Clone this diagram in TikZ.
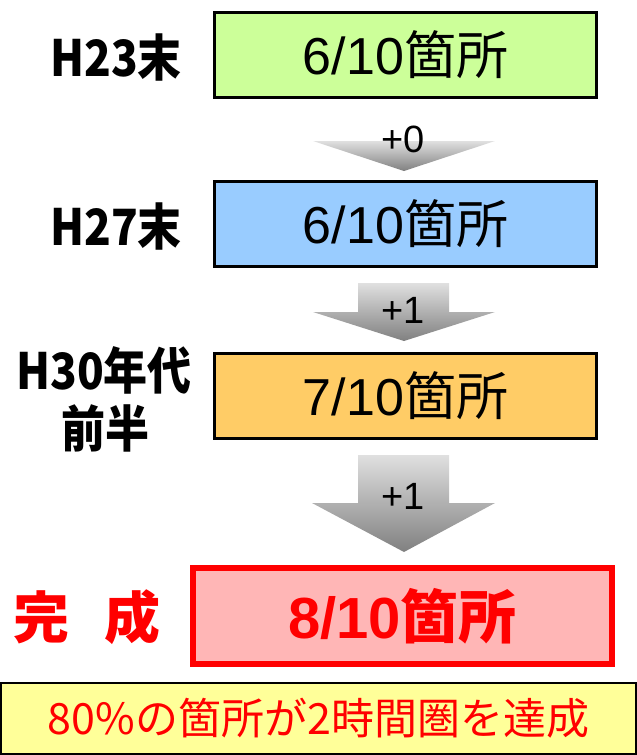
\documentclass[tikz,border=0pt]{standalone}
\usepackage{fontspec}
\setmainfont{Liberation Sans}
\newfontfamily\jp{Noto Sans CJK JP}
\newfontfamily\jpc{Noto Sans CJK JP}[FakeStretch=0.88]
\definecolor{gA}{RGB}{204,255,153}
\definecolor{bA}{RGB}{153,204,255}
\definecolor{oA}{RGB}{255,204,102}
\definecolor{pA}{RGB}{255,182,182}
\definecolor{yA}{RGB}{255,255,153}
\definecolor{rA}{RGB}{255,0,0}
\definecolor{arT}{RGB}{224,224,224}
\definecolor{arB}{RGB}{128,128,128}
\tikzset{
  valbox/.style={draw=black, line width=3pt, minimum width=382pt, minimum height=85pt, inner sep=0pt},
  valtext/.style={font=\fontsize{52}{60}\selectfont},
  sidelabel/.style={font=\jpc\bfseries\fontsize{50}{56}\selectfont, inner sep=0pt},
  steplabel/.style={font=\fontsize{38}{44}\selectfont, inner sep=0pt},
  blockarrow/.style={top color=arT, bottom color=arB, draw=none}
}
\begin{document}
\begin{tikzpicture}[x=1pt,y=-1pt]
\useasboundingbox (0,0) rectangle (637,755);
% arrows
\shade[blockarrow] (313,141) -- (495,141) -- (404,171) -- cycle;
\shade[blockarrow] (358,283) -- (449,283) -- (449,312) -- (495,312) -- (404,341) -- (313,312) -- (358,312) -- cycle;
\shade[blockarrow] (358,455) -- (449,455) -- (449,503) -- (495,503) -- (404,552) -- (312,503) -- (358,503) -- cycle;
\node[steplabel] (s1) at (403,139) {+0};
\node[steplabel] (s2) at (403,310) {+1};
\node[steplabel] (s3) at (403,496) {+1};
% boxes
\node[valbox, fill=gA, valtext] (b1) at (405.5,55) {6/10{\jp 箇所}};
\node[valbox, fill=bA, valtext] (b2) at (405.5,224) {6/10{\jp 箇所}};
\node[valbox, fill=oA, valtext] (b3) at (405.5,396) {7/10{\jp 箇所}};
\node[draw=rA, line width=6pt, fill=pA, minimum width=419pt, minimum height=96pt, inner sep=0pt,
      text=rA, font=\bfseries\fontsize{58}{66}\selectfont] (b4) at (402.5,616) {8/10{\jp\bfseries 箇所}};
\node[draw=black, line width=2pt, fill=yA, minimum width=635pt, minimum height=71pt, inner sep=0pt,
      text=rA, font=\jp\fontsize{43}{50}\selectfont] (b5) at (318.5,718.5) {80\%の箇所が2時間圏を達成};
% side labels
\node[sidelabel] (l1) at (116,57) {H23末};
\node[sidelabel] (l2) at (116,226) {H27末};
\node[sidelabel] (l3) at (104,370) {H30年代};
\node[sidelabel] (l4) at (105,428) {前半};
\node[sidelabel, text=rA, font=\jp\bfseries\fontsize{56}{60}\selectfont] (l5) at (87,617) {完\hspace{36pt}成};
\end{tikzpicture}
\end{document}
